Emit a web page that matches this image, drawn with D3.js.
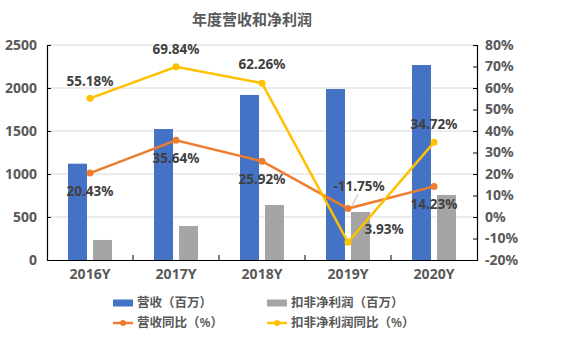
<!DOCTYPE html>
<html lang="zh">
<head>
<meta charset="utf-8">
<title>年度营收和净利润</title>
<script src="https://cdn.jsdelivr.net/npm/d3@7"></script>
<style>
  body { margin: 0; background: #fff; }
  svg text { font-family: "Noto Sans", "Noto Sans CJK SC", sans-serif; }
</style>
</head>
<body>
<script>

// data
var years = ["2016Y", "2017Y", "2018Y", "2019Y", "2020Y"];
var revenue = [1120, 1523, 1919, 1988, 2267];          // 营收（百万）
var netProfit = [233, 395, 640, 558, 756];              // 扣非净利润（百万）
var revenueYoY = [20.43, 35.64, 25.92, 3.93, 14.23];    // 营收同比（%）
var profitYoY = [55.18, 69.84, 62.26, -11.75, 34.72];   // 扣非净利润同比（%）
var leftTicks = [0, 500, 1000, 1500, 2000, 2500];
var rightTicks = [-20, -10, 0, 10, 20, 30, 40, 50, 60, 70, 80];

var w = 577, h = 341;
var plotLeft = 47, plotRight = 477, plotTop = 45, plotBottom = 260;

var svg = d3.select("body").append("svg")
  .attr("width", w)
  .attr("height", h);

var x = d3.scaleBand().domain(years).range([plotLeft, plotRight]);
var yL = d3.scaleLinear().domain([0, 2500]).range([plotBottom, plotTop]);
var yR = d3.scaleLinear().domain([-20, 80]).range([plotBottom, plotTop]);

// title
svg.append("text")
  .attr("x", 252).attr("y", 25)
  .attr("text-anchor", "middle")
  .attr("font-family", "Noto Sans CJK SC")
  .attr("font-size", 15)
  .attr("font-weight", "bold")
  .attr("fill", "#595959")
  .text("年度营收和净利润");

// gridlines
svg.append("g").selectAll("line")
  .data(leftTicks.filter(function(d) { return d > 0; }))
  .enter().append("line")
  .attr("x1", plotLeft).attr("x2", plotRight)
  .attr("y1", function(d) { return yL(d); })
  .attr("y2", function(d) { return yL(d); })
  .attr("stroke", "#d9d9d9")
  .attr("stroke-width", 1);

// bars
var barW = 19, gap = 3;
svg.append("g").selectAll("rect")
  .data(revenue)
  .enter().append("rect")
  .attr("x", function(d, i) { return x(years[i]) + x.bandwidth() / 2 - gap - barW; })
  .attr("y", function(d) { return yL(d); })
  .attr("width", barW)
  .attr("height", function(d) { return plotBottom - yL(d); })
  .attr("fill", "#4472C4");

svg.append("g").selectAll("rect")
  .data(netProfit)
  .enter().append("rect")
  .attr("x", function(d, i) { return x(years[i]) + x.bandwidth() / 2 + gap; })
  .attr("y", function(d) { return yL(d); })
  .attr("width", barW)
  .attr("height", function(d) { return plotBottom - yL(d); })
  .attr("fill", "#A5A5A5");

// axes
var leftAxis = svg.append("g")
  .attr("transform", "translate(" + plotLeft + ",0)")
  .call(d3.axisLeft(yL).tickValues(leftTicks).tickSize(-4).tickPadding(10)
    .tickFormat(d3.format("d")));
var rightAxis = svg.append("g")
  .attr("transform", "translate(" + plotRight + ",0)")
  .call(d3.axisRight(yR).tickValues(rightTicks).tickSize(-4).tickPadding(8)
    .tickFormat(function(d) { return d + "%"; }));
var bottomAxis = svg.append("g")
  .attr("transform", "translate(0," + plotBottom + ")")
  .call(d3.axisBottom(x).tickSize(0).tickPadding(9));

[leftAxis, rightAxis, bottomAxis].forEach(function(g) {
  g.select(".domain").attr("stroke", "#000").attr("stroke-width", 1.2);
  g.selectAll(".tick line").attr("stroke", "#000");
  g.selectAll(".tick text")
    .attr("font-size", 14)
    .attr("font-weight", "bold")
    .attr("fill", "#595959");
});

// small tick marks between categories on the x axis
svg.append("g").selectAll("line")
  .data(years.slice(1))
  .enter().append("line")
  .attr("x1", function(d) { return x(d); })
  .attr("x2", function(d) { return x(d); })
  .attr("y1", plotBottom).attr("y2", plotBottom - 5)
  .attr("stroke", "#000");

// lines
var cx = function(i) { return x(years[i]) + x.bandwidth() / 2; };

function drawLine(values, color) {
  var line = d3.line()
    .x(function(d, i) { return cx(i); })
    .y(function(d) { return yR(d); });
  svg.append("path")
    .datum(values)
    .attr("d", line)
    .attr("fill", "none")
    .attr("stroke", color)
    .attr("stroke-width", 2.5);
  svg.append("g").selectAll("circle")
    .data(values)
    .enter().append("circle")
    .attr("cx", function(d, i) { return cx(i); })
    .attr("cy", function(d) { return yR(d); })
    .attr("r", 3.5)
    .attr("fill", color);
}
drawLine(revenueYoY, "#ED7D31");
drawLine(profitYoY, "#FFC000");

// data labels, offsets from each point
var revOff = [[0, 18], [0, 18], [0, 18], [36, 21], [0, 18]];
var profOff = [[0, -17], [0, -18], [0, -19], [11, -56], [0, -18]];

// leader line for the 2019 profit label
svg.append("line")
  .attr("x1", cx(3) + 10).attr("y1", yR(profitYoY[3]) + profOff[3][1] + 8)
  .attr("x2", cx(3) + 4).attr("y2", yR(revenueYoY[3]) - 3)
  .attr("stroke", "#a6a6a6")
  .attr("stroke-width", 0.8);

function drawLabels(values, off) {
  svg.append("g").selectAll("text")
    .data(values)
    .enter().append("text")
    .attr("x", function(d, i) { return cx(i) + off[i][0]; })
    .attr("y", function(d, i) { return yR(d) + off[i][1]; })
    .attr("dy", "0.35em")
    .attr("text-anchor", "middle")
    .attr("font-size", 13.5)
    .attr("font-weight", "bold")
    .attr("fill", "#404040")
    .text(function(d) { return d.toFixed(2) + "%"; });
}
drawLabels(revenueYoY, revOff);
drawLabels(profitYoY, profOff);

// legend
var legend = [
  { name: "营收（百万）", color: "#4472C4", type: "bar", col: 0, row: 0 },
  { name: "扣非净利润（百万）", color: "#A5A5A5", type: "bar", col: 1, row: 0 },
  { name: "营收同比（%）", color: "#ED7D31", type: "line", col: 0, row: 1 },
  { name: "扣非净利润同比（%）", color: "#FFC000", type: "line", col: 1, row: 1 }
];
var lg = svg.append("g").selectAll("g")
  .data(legend)
  .enter().append("g")
  .attr("transform", function(d) {
    return "translate(" + (113 + d.col * 154) + "," + (303 + d.row * 20) + ")";
  });
lg.filter(function(d) { return d.type === "bar"; })
  .append("rect")
  .attr("x", 0).attr("y", -3.5)
  .attr("width", 20).attr("height", 7)
  .attr("fill", function(d) { return d.color; });
lg.filter(function(d) { return d.type === "line"; })
  .append("line")
  .attr("x1", 0).attr("x2", 20)
  .attr("y1", 0).attr("y2", 0)
  .attr("stroke", function(d) { return d.color; })
  .attr("stroke-width", 2.5);
lg.filter(function(d) { return d.type === "line"; })
  .append("circle")
  .attr("cx", 10).attr("cy", 0).attr("r", 3)
  .attr("fill", function(d) { return d.color; });
lg.append("text")
  .attr("x", 24).attr("y", 0)
  .attr("dy", "0.35em")
  .attr("font-family", "Noto Sans CJK SC")
  .attr("font-size", 12.5)
  .attr("font-weight", 600)
  .attr("fill", "#595959")
  .text(function(d) { return d.name; });

</script>
</body>
</html>
